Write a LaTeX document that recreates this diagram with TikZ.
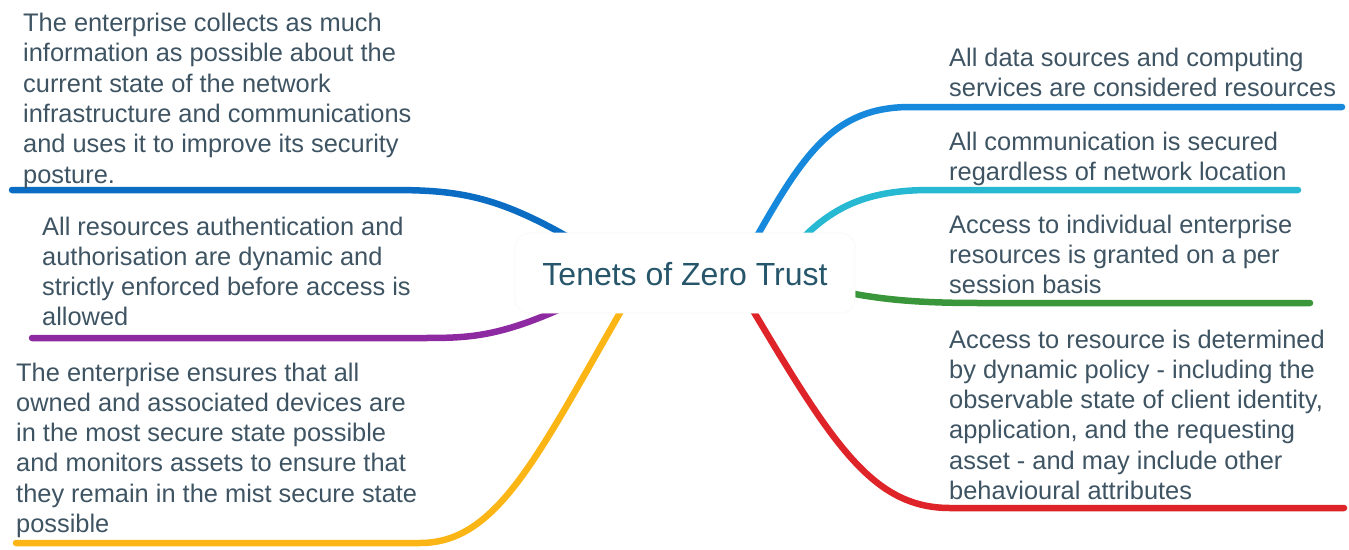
\documentclass[tikz,border=0pt]{standalone}
\usepackage{fontspec}
\setmainfont{Liberation Sans}
\definecolor{txt}{HTML}{3E5463}
\definecolor{ttl}{HTML}{27566B}
\definecolor{cblue}{HTML}{0B6CC3}
\definecolor{cpurple}{HTML}{8E2AA1}
\definecolor{cyellow}{HTML}{FBB514}
\definecolor{cblueb}{HTML}{1689DC}
\definecolor{ccyan}{HTML}{27B8D2}
\definecolor{cgreen}{HTML}{3A963A}
\definecolor{cred}{HTML}{DF2429}
\newcommand{\blk}[1]{\begin{tabular}[t]{@{}l@{}}#1\end{tabular}}
\begin{document}
\begin{tikzpicture}[x=1pt,y=-1pt,
  branch/.style={line width=6.5pt,line cap=round},
  leaf/.style={anchor=base west,inner sep=0pt,text=txt,font=\fontsize{25.4}{30.3}\selectfont},
  hub/.style={rounded corners=14pt,fill=white,draw=black!3,line width=0.6pt,minimum width=340pt,minimum height=80pt,inner sep=0pt}]
\useasboundingbox (0,0) rectangle (1349,549);
% branch anchor points (hidden under the central box)
\coordinate (sBL) at (590,250);
\coordinate (sPU) at (580,300);
\coordinate (sYE) at (632,292);
\coordinate (sBR) at (748,252);
\coordinate (sCY) at (792,250);
\coordinate (sGR) at (835,290);
\coordinate (sRE) at (742,292);
% free ends
\coordinate (eBL) at (12,190);
\coordinate (ePU) at (32,338);
\coordinate (eYE) at (16,543);
\coordinate (eBR) at (1342,107);
\coordinate (eCY) at (1298,190);
\coordinate (eGR) at (1310,303);
\coordinate (eRE) at (1344,508);
% branches
\draw[branch,cblue] (sBL) .. controls (500,195) and (460,190) .. (390,190) -- (eBL);
\draw[branch,cpurple] (sPU) .. controls (500,338) and (470,338) .. (420,338) -- (ePU);
\draw[branch,cyellow] (sYE) .. controls (540,450) and (500,543) .. (420,543) -- (eYE);
\draw[branch,cblueb] (sBR) .. controls (800,160) and (830,107) .. (910,107) -- (eBR);
\draw[branch,ccyan] (sCY) .. controls (830,205) and (870,190) .. (930,190) -- (eCY);
\draw[branch,cgreen] (sGR) .. controls (880,300) and (920,303) .. (980,303) -- (eGR);
\draw[branch,cred] (sRE) .. controls (830,440) and (870,508) .. (950,508) -- (eRE);
% central node
\node[hub] (hub) at (685,273) {};
\node[anchor=base,inner sep=0pt,text=ttl,font=\fontsize{32}{38}\selectfont] (title) at (685,285) {Tenets of Zero Trust};
% leaves
\node[leaf] (l1) at (23,31.5) {\blk{The enterprise collects as much\\information as possible about the\\current state of the network\\infrastructure and communications\\and uses it to improve its security\\posture.}};
\node[leaf] (l2) at (42,235) {\blk{All resources authentication and\\authorisation are dynamic and\\strictly enforced before access is\\allowed}};
\node[leaf] (l3) at (16,381) {\blk{The enterprise ensures that all\\owned and associated devices are\\in the most secure state possible\\and monitors assets to ensure that\\they remain in the mist secure state\\possible}};
\node[leaf] (r1) at (949,66) {\blk{All data sources and computing\\services are considered resources}};
\node[leaf] (r2) at (949,150) {\blk{All communication is secured\\regardless of network location}};
\node[leaf] (r3) at (949,233) {\blk{Access to individual enterprise\\resources is granted on a per\\session basis}};
\node[leaf] (r4) at (949,348) {\blk{Access to resource is determined\\by dynamic policy - including the\\observable state of client identity,\\application, and the requesting\\asset - and may include other\\behavioural attributes}};
\end{tikzpicture}
\end{document}
